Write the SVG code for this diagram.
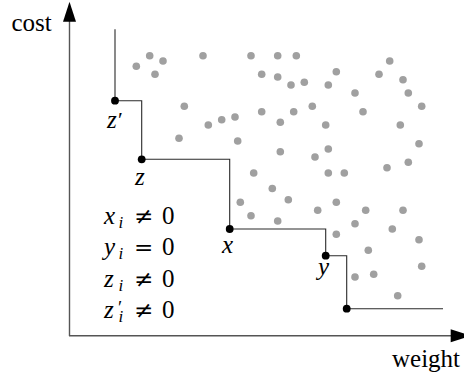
<svg xmlns="http://www.w3.org/2000/svg" width="464" height="378" viewBox="0 0 464 378">
<style>
.ax{stroke:#555;stroke-width:1.4;fill:none}
.st{stroke:#2a2a2a;stroke-width:1.1;fill:none}
.ah{fill:#000}
.d{fill:#a0a0a0}
.n{fill:#000}
text{fill:#000;font-family:"Liberation Serif","Times New Roman",serif;font-size:25px}
.it{font-style:italic}
.up{font-style:normal}
.sb{font-size:17px;font-style:italic}
.rel{font-family:"DejaVu Serif","Liberation Serif",serif;font-style:normal;font-size:23px}
</style>
<g id="axes">
<line class="ax" x1="69.5" y1="336" x2="69.5" y2="18"/>
<polygon class="ah" points="69.5,1.7 76,21.7 63,21.7"/>
<line class="ax" x1="69" y1="335.7" x2="453" y2="335.7"/>
<polygon class="ah" points="470.7,335.7 450.7,329.2 450.7,342.2"/>
<text x="11.5" y="31">cost</text>
<text x="392" y="367">weight</text>
</g>
<g id="points">
<circle class="d" cx="149.7" cy="55.7" r="3.8"/>
<circle class="d" cx="136.3" cy="66.3" r="3.8"/>
<circle class="d" cx="163" cy="61" r="3.8"/>
<circle class="d" cx="155" cy="74.3" r="3.8"/>
<circle class="d" cx="203" cy="55.7" r="3.8"/>
<circle class="d" cx="184.3" cy="106.3" r="3.8"/>
<circle class="d" cx="208.3" cy="125" r="3.8"/>
<circle class="d" cx="221.7" cy="119.7" r="3.8"/>
<circle class="d" cx="235" cy="117" r="3.8"/>
<circle class="d" cx="179" cy="138.3" r="3.8"/>
<circle class="d" cx="237.7" cy="141" r="3.8"/>
<circle class="d" cx="251" cy="55.7" r="3.8"/>
<circle class="d" cx="277.7" cy="55.7" r="3.8"/>
<circle class="d" cx="296.3" cy="55.7" r="3.8"/>
<circle class="d" cx="261.7" cy="74.3" r="3.8"/>
<circle class="d" cx="277.7" cy="77" r="3.8"/>
<circle class="d" cx="291" cy="85" r="3.8"/>
<circle class="d" cx="304.3" cy="82.3" r="3.8"/>
<circle class="d" cx="336.3" cy="71.7" r="3.8"/>
<circle class="d" cx="328.3" cy="85" r="3.8"/>
<circle class="d" cx="355" cy="93" r="3.8"/>
<circle class="d" cx="379" cy="74.3" r="3.8"/>
<circle class="d" cx="389.7" cy="61" r="3.8"/>
<circle class="d" cx="403" cy="79.7" r="3.8"/>
<circle class="d" cx="408.3" cy="93" r="3.8"/>
<circle class="d" cx="421.7" cy="106.3" r="3.8"/>
<circle class="d" cx="261.7" cy="111.7" r="3.8"/>
<circle class="d" cx="293.7" cy="111.7" r="3.8"/>
<circle class="d" cx="312.3" cy="106.3" r="3.8"/>
<circle class="d" cx="280.3" cy="122.3" r="3.8"/>
<circle class="d" cx="325.7" cy="125" r="3.8"/>
<circle class="d" cx="363" cy="111.7" r="3.8"/>
<circle class="d" cx="400.3" cy="125" r="3.8"/>
<circle class="d" cx="280.3" cy="151.7" r="3.8"/>
<circle class="d" cx="315" cy="157" r="3.8"/>
<circle class="d" cx="328.3" cy="149" r="3.8"/>
<circle class="d" cx="419" cy="143.7" r="3.8"/>
<circle class="d" cx="408.3" cy="162.3" r="3.8"/>
<circle class="d" cx="387" cy="167.7" r="3.8"/>
<circle class="d" cx="253.7" cy="173" r="3.8"/>
<circle class="d" cx="328.3" cy="173" r="3.8"/>
<circle class="d" cx="344.3" cy="173" r="3.8"/>
<circle class="d" cx="272.3" cy="188.5" r="3.8"/>
<circle class="d" cx="240.3" cy="202.3" r="3.8"/>
<circle class="d" cx="288.3" cy="199.7" r="3.8"/>
<circle class="d" cx="251" cy="215.7" r="3.8"/>
<circle class="d" cx="277.7" cy="221" r="3.8"/>
<circle class="d" cx="317.7" cy="210.3" r="3.8"/>
<circle class="d" cx="336.3" cy="202.3" r="3.8"/>
<circle class="d" cx="365.7" cy="210.3" r="3.8"/>
<circle class="d" cx="403" cy="210.3" r="3.8"/>
<circle class="d" cx="355" cy="223.7" r="3.8"/>
<circle class="d" cx="392.3" cy="229" r="3.8"/>
<circle class="d" cx="336.3" cy="234.3" r="3.8"/>
<circle class="d" cx="419" cy="239.7" r="3.8"/>
<circle class="d" cx="368.3" cy="250.3" r="3.8"/>
<circle class="d" cx="421.7" cy="266.3" r="3.8"/>
<circle class="d" cx="355" cy="277" r="3.8"/>
<circle class="d" cx="373.7" cy="274.3" r="3.8"/>
<circle class="d" cx="397.7" cy="295.7" r="3.8"/>
</g>
<g id="connectors">
<path class="st" d="M115,29.3 V100.7 H141.7 V159.3 H229.7 V229 H325.7 V255.7 H346.7 V308.7 H443"/>
</g>
<g id="node-zprime">
<circle class="n" cx="115" cy="100.7" r="3.9"/>
<text class="it" x="107" y="128">z<tspan class="up" font-size="22" x="118" y="127">′</tspan></text>
</g>
<g id="node-z">
<circle class="n" cx="141.7" cy="159.3" r="3.9"/>
<text class="it" x="135" y="185">z</text>
</g>
<g id="node-x">
<circle class="n" cx="229.7" cy="229" r="3.9"/>
<text class="it" x="222" y="253">x</text>
</g>
<g id="node-y">
<circle class="n" cx="325.7" cy="255.7" r="3.9"/>
<text class="it" x="318" y="275">y</text>
</g>
<g id="node-end">
<circle class="n" cx="346.7" cy="308.7" r="3.9"/>
</g>
<g id="conditions">
<text class="it" x="104" y="224">x<tspan class="sb" x="118.5" y="228">i</tspan><tspan class="rel" x="134" y="224">≠</tspan><tspan class="up" x="162" y="224">0</tspan></text>
<text class="it" x="104" y="255">y<tspan class="sb" x="118.5" y="259">i</tspan><tspan class="rel" x="134" y="255">=</tspan><tspan class="up" x="162" y="255">0</tspan></text>
<text class="it" x="104" y="286.5">z<tspan class="sb" x="118.5" y="290.5">i</tspan><tspan class="rel" x="134" y="286.5">≠</tspan><tspan class="up" x="162" y="286.5">0</tspan></text>
<text class="it" x="104" y="317.5">z<tspan class="up" font-size="19" x="118" y="314">′</tspan><tspan class="sb" x="118.5" y="321.5">i</tspan><tspan class="rel" x="134" y="317.5">≠</tspan><tspan class="up" x="162" y="317.5">0</tspan></text>
</g>
</svg>
